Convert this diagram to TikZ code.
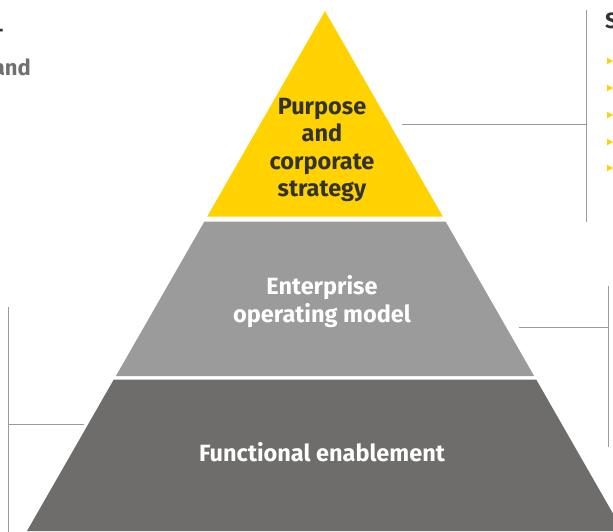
\documentclass[tikz,border=0pt]{standalone}
\usepackage{fontspec}
\setmainfont{Fira Sans}
\definecolor{eyyellow}{HTML}{FFD200}
\definecolor{midgray}{HTML}{9B9B9B}
\definecolor{darkgray2}{HTML}{6E6D6B}
\definecolor{leadgray}{HTML}{9A9A9A}
\definecolor{txtdark}{HTML}{333333}
\definecolor{txtgray}{HTML}{707070}
\tikzset{
  layertext/.style={align=center, font=\fontsize{23.5}{27.5}\selectfont\bfseries, inner sep=0pt},
  leader/.style={draw=leadgray, line width=1pt},
  bullet/.style={fill=eyyellow, draw=none},
  sidetext/.style={font=\fontsize{22}{27.5}\selectfont\bfseries, inner sep=0pt}
}
\begin{document}
\begin{tikzpicture}[x=1pt,y=-1pt]
\useasboundingbox (0,0) rectangle (613,531);
\clip (0,0) rectangle (613,531);
% pyramid layers
\fill[eyyellow] (325,11) -- (207.1,216.7) -- (442.9,216.7) -- cycle;
\fill[midgray] (204.3,221.7) -- (445.7,221.7) -- (534.1,376) -- (115.9,376) -- cycle;
\fill[darkgray2] (113.8,379.5) -- (536.2,379.5) -- (623,531) -- (27,531) -- cycle;
% layer texts
\node[layertext, text=txtdark] (purpose) at (322,150) {Purpose\\and\\corporate\\strategy};
\node[layertext, text=white] (eom) at (322,301.5) {Enterprise\\operating model};
\node[layertext, text=white] (func) at (322,452) {Functional enablement};
% leader lines
\coordinate (t1) at (402,124.7);
\coordinate (t2) at (586,124.7);
\coordinate (t3) at (586,10);
\coordinate (t4) at (586,222);
\draw[leader] (t1) -- (t2);
\draw[leader] (t3) -- (t4);
\coordinate (m1) at (519,327);
\coordinate (m2) at (608,327);
\coordinate (m3) at (608,286);
\coordinate (m4) at (608,447);
\draw[leader] (m1) -- (m2);
\draw[leader] (m3) -- (m4);
\coordinate (l1) at (8.3,307);
\coordinate (l2) at (8.3,535);
\coordinate (l3) at (8.3,424.3);
\coordinate (l4) at (84,424.3);
\draw[leader] (l1) -- (l2);
\draw[leader] (l3) -- (l4);
% side texts (cropped at the picture's edges, as in the reference)
\node[sidetext, text=txtdark, anchor=base west] (stitle) at (605,28) {S};
\foreach \yy in {61,88,115,142,168}{
  \fill[bullet] (607,\yy-3.3) -- (613,\yy) -- (607,\yy+3.3) -- cycle;
}
\node[sidetext, text=txtgray, anchor=base east] (leftand) at (31,75) {and};
\node[sidetext, text=txtdark, anchor=base east] (leftdash) at (4,37) {-};
\end{tikzpicture}
\end{document}
